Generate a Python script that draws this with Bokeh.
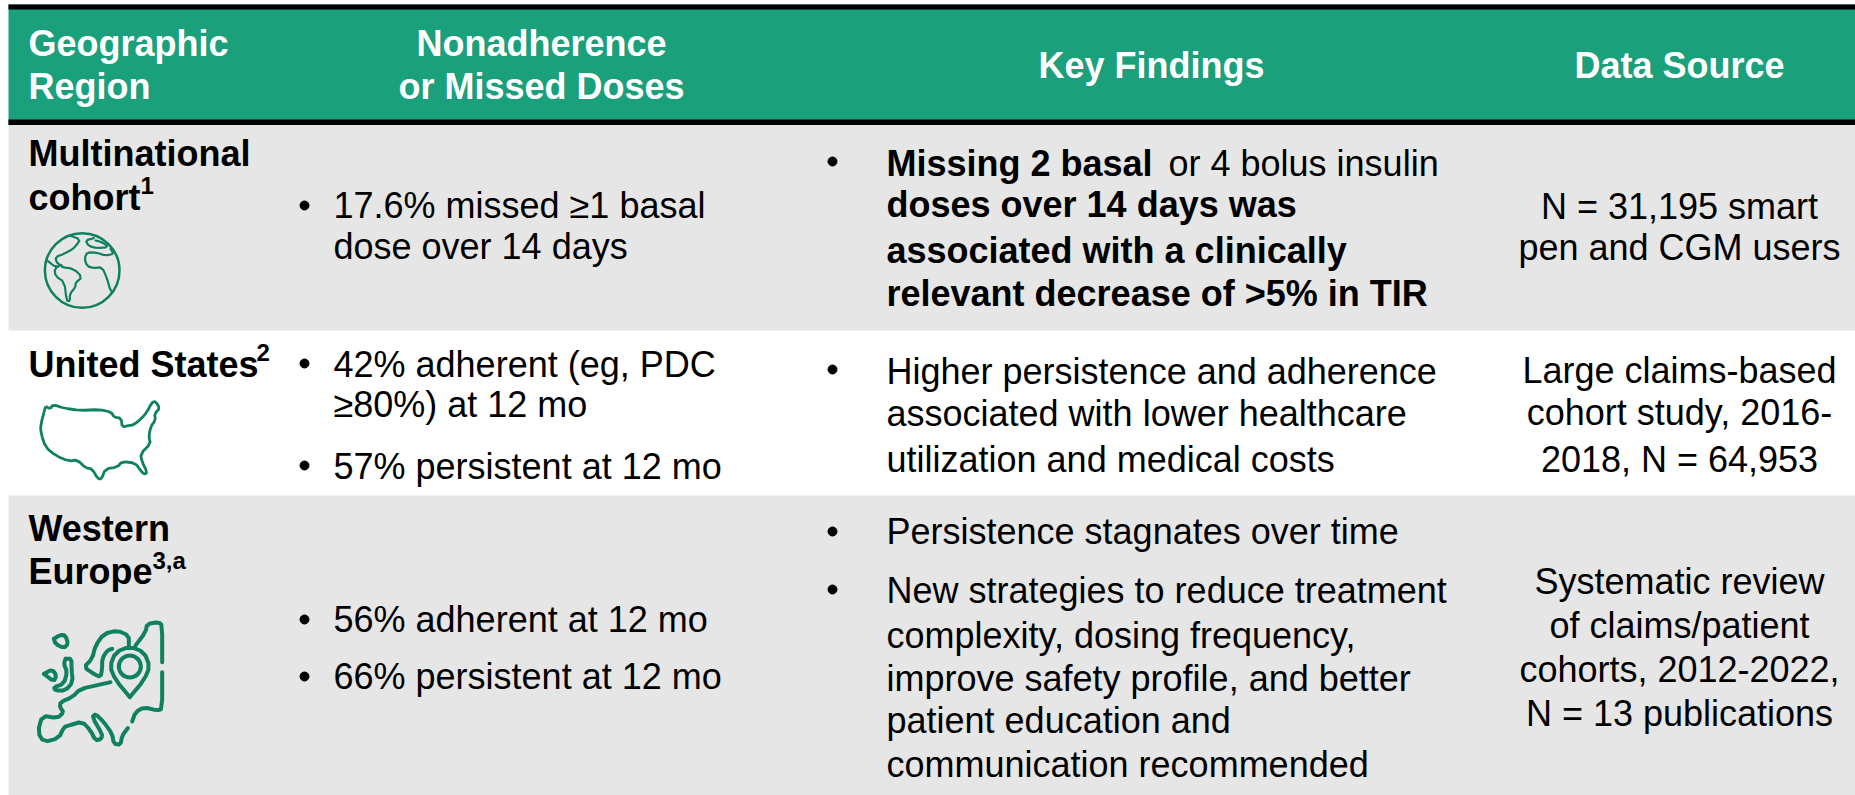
from bokeh.plotting import figure
from bokeh.embed import file_html
from bokeh.resources import INLINE
from bokeh.models import Range1d
from bokeh.core.properties import value

GREEN="#1aa07a"; ICON="#0f8060"; GREY="#e6e6e6"
headers=[("Geographic",28,55,"left"),("Region",28,98,"left"),("Nonadherence",541,55,"center"),("or Missed Doses",541,98,"center"),("Key Findings",1151,77,"center"),("Data Source",1679,77,"center")]
col1=[(28,165,"Multinational",1),(28,209,"cohort",1),(28,376,"United States",1),(28,540,"Western",1),(28,583,"Europe",1)]
sups=[(140,197,"1"),(256,364,"2"),(152,572,"3,a")]
col2=[(333,217,"17.6% missed ≥1 basal"),(333,258,"dose over 14 days"),(333,376,"42% adherent (eg, PDC"),(333,416,"≥80%) at 12 mo"),(333,478,"57% persistent at 12 mo"),(333,631,"56% adherent at 12 mo"),(333,688,"66% persistent at 12 mo")]
bul2=[205,363,465,619,676]
col3=[(886,175,"Missing 2 basal",1),(1168,175,"or 4 bolus insulin",0),(886,216,"doses over 14 days was",1),(886,262,"associated with a clinically",1),(886,305,"relevant decrease of >5% in TIR",1),(886,383,"Higher persistence and adherence",0),(886,425,"associated with lower healthcare",0),(886,471,"utilization and medical costs",0),(886,543,"Persistence stagnates over time",0),(886,602,"New strategies to reduce treatment",0),(886,647,"complexity, dosing frequency,",0),(886,690,"improve safety profile, and better",0),(886,732,"patient education and",0),(886,776,"communication recommended",0)]
bul3=[161,369,531,589]
col4=[(1679,218,"N = 31,195 smart"),(1679,259,"pen and CGM users"),(1679,382,"Large claims-based"),(1679,424,"cohort study, 2016-"),(1679,471,"2018, N = 64,953"),(1679,593,"Systematic review"),(1679,637,"of claims/patient"),(1679,681,"cohorts, 2012-2022,"),(1679,725,"N = 13 publications")]

us=[(135,228),(150,235),(157,222),(190,233),(240,240),(295,237),(333,245),(340,260),(362,263),(365,290),(385,285),(400,283),(425,262),(440,243),(455,215),(465,213),(478,233),(462,250),(465,268),(450,290),(445,320),(450,340),(420,370),(425,395),(440,425),(432,432),(420,420),(405,398),(365,393),(350,410),(315,415),(303,445),(292,445),(275,415),(255,412),(230,388),(205,392),(165,375),(135,350),(122,310),(120,285),(135,228)]
globe=[
[(118,30),(150,42),(135,62),(125,72),(100,85),(75,95),(78,110),(88,118)],
[(50,105),(75,125),(92,118),(95,125),(130,130),(155,155),(135,172),(135,185),(118,205),(118,228),(108,225),(102,170),(75,152),(72,130),(92,118)],
[(190,38),(165,45),(175,62),(200,68),(235,65),(215,50),(195,45)],
[(240,70),(250,85),(225,90),(200,82),(170,80),(162,100),(170,122),(190,128),(215,125),(230,160),(238,190),(245,200)],
]
europe=[
[(485,500),(485,390),(475,380),(440,385),(435,410),(405,450)],
[(485,530),(485,640),(470,645),(430,635),(405,650),(395,678)],
[(385,450),(385,420),(350,405),(310,415),(285,450),(275,490),(250,515),(280,535),(300,545),(305,520),(305,490),(320,465),(335,460)],
[(330,560),(295,568),(240,580),(215,605),(180,620),(178,635),(190,650),(170,668),(125,660),(112,710),(130,740),(175,728),(190,695),(205,690),(245,678),(270,705),(285,735),(303,730),(305,715),(275,665),(285,655),(310,680),(335,715),(340,745),(360,748),(365,720),(382,698)],
[(160,430),(180,418),(195,420),(203,445),(190,458),(165,445),(160,430)],
[(195,490),(213,490),(213,520),(217,560),(195,585),(165,585),(160,575),(190,565),(200,530),(190,505),(195,490)],
[(130,535),(155,522),(168,540),(160,558),(130,535)],
[(388,605),(345,553),(328,513),(345,470),(388,453),(431,470),(448,513),(431,553),(388,605)],
]

def round_off(s):
    # round the corners of a traced icon outline
    out=[s[0]]
    for (x0,y0),(x1,y1) in zip(s,s[1:]):
        out.append((0.75*x0+0.25*x1,0.75*y0+0.25*y1))
        out.append((0.25*x0+0.75*x1,0.25*y0+0.75*y1))
    out.append(s[-1])
    return out

DY=12
p=figure(width=1855,height=795,output_backend="svg",toolbar_location=None,x_range=Range1d(0,1855),y_range=Range1d(795,0),min_border=0,outline_line_color=None)
p.xaxis.visible=False;p.yaxis.visible=False;p.grid.visible=False
p.quad(left=[8,8],right=[1855,1855],top=[124,495],bottom=[330,795],fill_color=GREY,line_color=None)
p.quad(left=[8],right=[1855],top=[4],bottom=[124],fill_color=GREEN,line_color=None)
p.quad(left=[8,8],right=[1855,1855],top=[4,119],bottom=[9,124.5],fill_color="#000000",line_color=None)
F=value("Liberation Sans")
def T(x,y,t,b=0,a="left",s="36px",c="#000000"):
    p.text([x],[y-DY],text=[t],text_color=c,text_font=F,text_font_style="bold" if b else "normal",text_font_size=s,text_align=a,text_baseline="alphabetic")
for t,x,y,a in headers: T(x,y,t,1,a,c="#ffffff")
for x,y,t,b in col1: T(x,y,t,b)
for x,y,t in sups: T(x,y,t,1,s="24px")
for x,y,t in col2: T(x,y,t)
for x,y,t,b in col3: T(x,y,t,b)
for x,y,t in col4: T(x,y,t,0,"center")
p.scatter([304]*len(bul2),bul2,size=9,color="black")
p.scatter([832]*len(bul3),bul3,size=9,color="black")
u=round_off(us)
p.line([a/3 for a,b in u],[330+b/3 for a,b in u],line_color=ICON,line_width=2.8,line_join="round")
p.circle([81.7],[270],radius=37.3,fill_color=None,line_color=ICON,line_width=2.5)
gl=[round_off(s) for s in globe]
p.multi_line([[30+a/3 for a,b in s] for s in gl],[[225+b/3 for a,b in s] for s in gl],line_color=ICON,line_width=2.2,line_join="round",line_cap="round")
eu=[round_off(s) for s in europe]
p.multi_line([[a/3 for a,b in s] for s in eu],[[495+b/3 for a,b in s] for s in eu],line_color=ICON,line_width=4,line_join="round",line_cap="round")
p.circle([388/3],[495+513/3],radius=11,fill_color=None,line_color=ICON,line_width=4)
open("out.html","w").write(file_html(p,INLINE))
